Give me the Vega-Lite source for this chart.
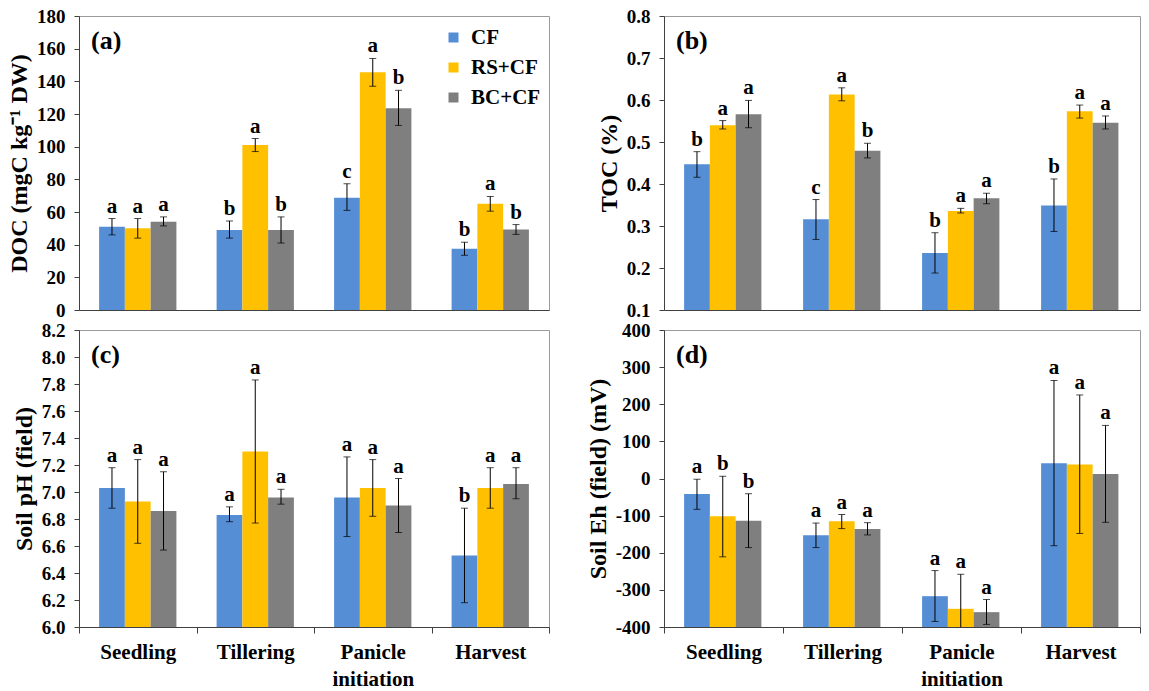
{
  "$schema": "https://vega.github.io/schema/vega-lite/v6.json",
  "padding": {"left": 7, "top": 6, "right": 5, "bottom": 2},
  "bounds": "flush",
  "align": "each",
  "columns": 2,
  "spacing": {"row": 20, "column": 115},
  "datasets": {
    "a": [
      {"stage": "Seedling", "treat": "CF", "value": 51, "lo": 46, "hi": 56, "letter": "a"},
      {"stage": "Seedling", "treat": "RS+CF", "value": 50, "lo": 44, "hi": 56, "letter": "a"},
      {"stage": "Seedling", "treat": "BC+CF", "value": 54, "lo": 51.5, "hi": 57, "letter": "a"},
      {"stage": "Tillering", "treat": "CF", "value": 49, "lo": 44, "hi": 54.5, "letter": "b"},
      {"stage": "Tillering", "treat": "RS+CF", "value": 101, "lo": 97, "hi": 105, "letter": "a"},
      {"stage": "Tillering", "treat": "BC+CF", "value": 49, "lo": 41, "hi": 57, "letter": "b"},
      {"stage": "Panicle initiation", "treat": "CF", "value": 68.7, "lo": 61, "hi": 77.3, "letter": "c"},
      {"stage": "Panicle initiation", "treat": "RS+CF", "value": 145.5, "lo": 137, "hi": 154, "letter": "a"},
      {"stage": "Panicle initiation", "treat": "BC+CF", "value": 123.5, "lo": 113, "hi": 134.5, "letter": "b"},
      {"stage": "Harvest", "treat": "CF", "value": 37.5, "lo": 33.5, "hi": 41.5, "letter": "b"},
      {"stage": "Harvest", "treat": "RS+CF", "value": 65, "lo": 60.5, "hi": 69.5, "letter": "a"},
      {"stage": "Harvest", "treat": "BC+CF", "value": 49.3, "lo": 46.3, "hi": 52.3, "letter": "b"}
    ],
    "b": [
      {"stage": "Seedling", "treat": "CF", "value": 0.447, "lo": 0.416, "hi": 0.477, "letter": "b"},
      {"stage": "Seedling", "treat": "RS+CF", "value": 0.54, "lo": 0.531, "hi": 0.551, "letter": "a"},
      {"stage": "Seedling", "treat": "BC+CF", "value": 0.566, "lo": 0.534, "hi": 0.599, "letter": "a"},
      {"stage": "Tillering", "treat": "CF", "value": 0.316, "lo": 0.268, "hi": 0.363, "letter": "c"},
      {"stage": "Tillering", "treat": "RS+CF", "value": 0.613, "lo": 0.598, "hi": 0.629, "letter": "a"},
      {"stage": "Tillering", "treat": "BC+CF", "value": 0.479, "lo": 0.462, "hi": 0.497, "letter": "b"},
      {"stage": "Panicle initiation", "treat": "CF", "value": 0.236, "lo": 0.188, "hi": 0.284, "letter": "b"},
      {"stage": "Panicle initiation", "treat": "RS+CF", "value": 0.336, "lo": 0.331, "hi": 0.342, "letter": "a"},
      {"stage": "Panicle initiation", "treat": "BC+CF", "value": 0.366, "lo": 0.353, "hi": 0.378, "letter": "a"},
      {"stage": "Harvest", "treat": "CF", "value": 0.349, "lo": 0.287, "hi": 0.412, "letter": "b"},
      {"stage": "Harvest", "treat": "RS+CF", "value": 0.573, "lo": 0.557, "hi": 0.588, "letter": "a"},
      {"stage": "Harvest", "treat": "BC+CF", "value": 0.546, "lo": 0.531, "hi": 0.562, "letter": "a"}
    ],
    "c": [
      {"stage": "Seedling", "treat": "CF", "value": 7.03, "lo": 6.88, "hi": 7.18, "letter": "a"},
      {"stage": "Seedling", "treat": "RS+CF", "value": 6.93, "lo": 6.62, "hi": 7.24, "letter": "a"},
      {"stage": "Seedling", "treat": "BC+CF", "value": 6.86, "lo": 6.57, "hi": 7.15, "letter": "a"},
      {"stage": "Tillering", "treat": "CF", "value": 6.83, "lo": 6.78, "hi": 6.89, "letter": "a"},
      {"stage": "Tillering", "treat": "RS+CF", "value": 7.3, "lo": 6.77, "hi": 7.83, "letter": "a"},
      {"stage": "Tillering", "treat": "BC+CF", "value": 6.96, "lo": 6.91, "hi": 7.02, "letter": "a"},
      {"stage": "Panicle initiation", "treat": "CF", "value": 6.96, "lo": 6.67, "hi": 7.26, "letter": "a"},
      {"stage": "Panicle initiation", "treat": "RS+CF", "value": 7.03, "lo": 6.82, "hi": 7.24, "letter": "a"},
      {"stage": "Panicle initiation", "treat": "BC+CF", "value": 6.9, "lo": 6.7, "hi": 7.1, "letter": "a"},
      {"stage": "Harvest", "treat": "CF", "value": 6.53, "lo": 6.18, "hi": 6.88, "letter": "b"},
      {"stage": "Harvest", "treat": "RS+CF", "value": 7.03, "lo": 6.88, "hi": 7.18, "letter": "a"},
      {"stage": "Harvest", "treat": "BC+CF", "value": 7.06, "lo": 6.95, "hi": 7.18, "letter": "a"}
    ],
    "d": [
      {"stage": "Seedling", "treat": "CF", "value": -42, "lo": -83, "hi": -2, "letter": "a"},
      {"stage": "Seedling", "treat": "RS+CF", "value": -102, "lo": -211, "hi": 6, "letter": "b"},
      {"stage": "Seedling", "treat": "BC+CF", "value": -114, "lo": -186, "hi": -41, "letter": "b"},
      {"stage": "Tillering", "treat": "CF", "value": -153, "lo": -186, "hi": -120, "letter": "a"},
      {"stage": "Tillering", "treat": "RS+CF", "value": -115, "lo": -135, "hi": -97, "letter": "a"},
      {"stage": "Tillering", "treat": "BC+CF", "value": -136, "lo": -152, "hi": -119, "letter": "a"},
      {"stage": "Panicle initiation", "treat": "CF", "value": -317, "lo": -385, "hi": -248, "letter": "a"},
      {"stage": "Panicle initiation", "treat": "RS+CF", "value": -351, "lo": -445, "hi": -258, "letter": "a"},
      {"stage": "Panicle initiation", "treat": "BC+CF", "value": -360, "lo": -393, "hi": -326, "letter": "a"},
      {"stage": "Harvest", "treat": "CF", "value": 41, "lo": -181, "hi": 264, "letter": "a"},
      {"stage": "Harvest", "treat": "RS+CF", "value": 38, "lo": -148, "hi": 225, "letter": "a"},
      {"stage": "Harvest", "treat": "BC+CF", "value": 12, "lo": -118, "hi": 143, "letter": "a"}
    ]
  },
  "concat": [
    {
      "width": 470, "height": 294,
      "title": {"text": "(a)", "anchor": "start", "frame": "group", "offset": -68, "dx": 12, "baseline": "alphabetic"},
      "data": {"name": "a"},
      "encoding": {
        "x": {"field": "stage", "type": "nominal", "sort": ["Seedling", "Tillering", "Panicle initiation", "Harvest"], "scale": {"paddingInner": 0, "paddingOuter": 0}, "axis": {"title": null, "labels": false, "ticks": false}},
        "xOffset": {"field": "treat", "type": "nominal", "sort": ["CF", "RS+CF", "BC+CF"], "scale": {"paddingInner": 0, "paddingOuter": 0.78}}
      },
      "layer": [
        {"mark": {"type": "bar"},
         "encoding": {
           "y": {"field": "value", "type": "quantitative", "scale": {"domain": [0, 180], "nice": false, "zero": false}, "axis": {"title": "DOC (mgC kg⁻¹ DW)", "values": [0, 20, 40, 60, 80, 100, 120, 140, 160, 180], "labelOverlap": false}},
           "y2": {"datum": 0},
           "color": {"field": "treat", "type": "nominal", "scale": {"domain": ["CF", "RS+CF", "BC+CF"], "range": ["#558ED5", "#FFC000", "#7F7F7F"]},
             "legend": {"title": null, "orient": "none", "legendX": 364, "legendY": 11, "symbolType": "square", "symbolSize": 100, "symbolStrokeWidth": 0, "labelFont": "Liberation Serif", "labelFontSize": 21, "labelFontWeight": "bold", "labelColor": "black", "rowPadding": 8, "labelOffset": 7}}
         }},
        {"mark": {"type": "rule", "color": "black", "strokeWidth": 1, "clip": true}, "encoding": {"y": {"field": "lo", "type": "quantitative", "axis": {"title": "DOC (mgC kg⁻¹ DW)", "values": [0, 20, 40, 60, 80, 100, 120, 140, 160, 180], "labelOverlap": false}}, "y2": {"field": "hi"}}},
        {"mark": {"type": "tick", "color": "black", "thickness": 1, "size": 7, "clip": true}, "encoding": {"y": {"field": "lo", "type": "quantitative", "axis": {"title": "DOC (mgC kg⁻¹ DW)", "values": [0, 20, 40, 60, 80, 100, 120, 140, 160, 180], "labelOverlap": false}}}},
        {"mark": {"type": "tick", "color": "black", "thickness": 1, "size": 7}, "encoding": {"y": {"field": "hi", "type": "quantitative", "axis": {"title": "DOC (mgC kg⁻¹ DW)", "values": [0, 20, 40, 60, 80, 100, 120, 140, 160, 180], "labelOverlap": false}}}},
        {"mark": {"type": "text", "dy": -6, "baseline": "alphabetic", "font": "Liberation Serif", "fontWeight": "bold", "fontSize": 21, "color": "black"}, "encoding": {"y": {"field": "hi", "type": "quantitative", "axis": {"title": "DOC (mgC kg⁻¹ DW)", "values": [0, 20, 40, 60, 80, 100, 120, 140, 160, 180], "labelOverlap": false}}, "text": {"field": "letter"}}}
      ]
    },
    {
      "width": 476, "height": 294,
      "title": {"text": "(b)", "anchor": "start", "frame": "group", "offset": -68, "dx": 12, "baseline": "alphabetic"},
      "data": {"name": "b"},
      "encoding": {
        "x": {"field": "stage", "type": "nominal", "sort": ["Seedling", "Tillering", "Panicle initiation", "Harvest"], "scale": {"paddingInner": 0, "paddingOuter": 0}, "axis": {"title": null, "labels": false, "ticks": false}},
        "xOffset": {"field": "treat", "type": "nominal", "sort": ["CF", "RS+CF", "BC+CF"], "scale": {"paddingInner": 0, "paddingOuter": 0.78}}
      },
      "layer": [
        {"mark": {"type": "bar"},
         "encoding": {
           "y": {"field": "value", "type": "quantitative", "scale": {"domain": [0.1, 0.8], "nice": false, "zero": false}, "axis": {"title": "TOC (%)", "values": [0.1, 0.2, 0.3, 0.4, 0.5, 0.6, 0.7, 0.8], "format": ".1f", "labelOverlap": false}},
           "y2": {"datum": 0.1},
           "color": {"field": "treat", "type": "nominal", "scale": {"domain": ["CF", "RS+CF", "BC+CF"], "range": ["#558ED5", "#FFC000", "#7F7F7F"]}, "legend": null}
         }},
        {"mark": {"type": "rule", "color": "black", "strokeWidth": 1, "clip": true}, "encoding": {"y": {"field": "lo", "type": "quantitative", "axis": {"title": "TOC (%)", "values": [0.1, 0.2, 0.3, 0.4, 0.5, 0.6, 0.7, 0.8], "format": ".1f", "labelOverlap": false}}, "y2": {"field": "hi"}}},
        {"mark": {"type": "tick", "color": "black", "thickness": 1, "size": 7, "clip": true}, "encoding": {"y": {"field": "lo", "type": "quantitative", "axis": {"title": "TOC (%)", "values": [0.1, 0.2, 0.3, 0.4, 0.5, 0.6, 0.7, 0.8], "format": ".1f", "labelOverlap": false}}}},
        {"mark": {"type": "tick", "color": "black", "thickness": 1, "size": 7}, "encoding": {"y": {"field": "hi", "type": "quantitative", "axis": {"title": "TOC (%)", "values": [0.1, 0.2, 0.3, 0.4, 0.5, 0.6, 0.7, 0.8], "format": ".1f", "labelOverlap": false}}}},
        {"mark": {"type": "text", "dy": -6, "baseline": "alphabetic", "font": "Liberation Serif", "fontWeight": "bold", "fontSize": 21, "color": "black"}, "encoding": {"y": {"field": "hi", "type": "quantitative", "axis": {"title": "TOC (%)", "values": [0.1, 0.2, 0.3, 0.4, 0.5, 0.6, 0.7, 0.8], "format": ".1f", "labelOverlap": false}}, "text": {"field": "letter"}}}
      ]
    },
    {
      "width": 470, "height": 297,
      "title": {"text": "(c)", "anchor": "start", "frame": "group", "offset": -68, "dx": 12, "baseline": "alphabetic"},
      "data": {"name": "c"},
      "encoding": {
        "x": {"field": "stage", "type": "nominal", "sort": ["Seedling", "Tillering", "Panicle initiation", "Harvest"], "scale": {"paddingInner": 0, "paddingOuter": 0},
          "axis": {"title": null, "labelAngle": 0, "tickBand": "extent", "tickSize": 6, "labelFontSize": 21, "labelPadding": 8, "labelLineHeight": 27, "labelBaseline": "top", "labelExpr": "datum.value == 'Panicle initiation' ? ['Panicle', 'initiation'] : datum.label"}},
        "xOffset": {"field": "treat", "type": "nominal", "sort": ["CF", "RS+CF", "BC+CF"], "scale": {"paddingInner": 0, "paddingOuter": 0.78}}
      },
      "layer": [
        {"mark": {"type": "bar"},
         "encoding": {
           "y": {"field": "value", "type": "quantitative", "scale": {"domain": [6.0, 8.2], "nice": false, "zero": false}, "axis": {"title": "Soil pH (field)", "values": [6.0, 6.2, 6.4, 6.6, 6.8, 7.0, 7.2, 7.4, 7.6, 7.8, 8.0, 8.2], "format": ".1f", "labelOverlap": false}},
           "y2": {"datum": 6.0},
           "color": {"field": "treat", "type": "nominal", "scale": {"domain": ["CF", "RS+CF", "BC+CF"], "range": ["#558ED5", "#FFC000", "#7F7F7F"]}, "legend": null}
         }},
        {"mark": {"type": "rule", "color": "black", "strokeWidth": 1, "clip": true}, "encoding": {"y": {"field": "lo", "type": "quantitative", "axis": {"title": "Soil pH (field)", "values": [6.0, 6.2, 6.4, 6.6, 6.8, 7.0, 7.2, 7.4, 7.6, 7.8, 8.0, 8.2], "format": ".1f", "labelOverlap": false}}, "y2": {"field": "hi"}}},
        {"mark": {"type": "tick", "color": "black", "thickness": 1, "size": 7, "clip": true}, "encoding": {"y": {"field": "lo", "type": "quantitative", "axis": {"title": "Soil pH (field)", "values": [6.0, 6.2, 6.4, 6.6, 6.8, 7.0, 7.2, 7.4, 7.6, 7.8, 8.0, 8.2], "format": ".1f", "labelOverlap": false}}}},
        {"mark": {"type": "tick", "color": "black", "thickness": 1, "size": 7}, "encoding": {"y": {"field": "hi", "type": "quantitative", "axis": {"title": "Soil pH (field)", "values": [6.0, 6.2, 6.4, 6.6, 6.8, 7.0, 7.2, 7.4, 7.6, 7.8, 8.0, 8.2], "format": ".1f", "labelOverlap": false}}}},
        {"mark": {"type": "text", "dy": -6, "baseline": "alphabetic", "font": "Liberation Serif", "fontWeight": "bold", "fontSize": 21, "color": "black"}, "encoding": {"y": {"field": "hi", "type": "quantitative", "axis": {"title": "Soil pH (field)", "values": [6.0, 6.2, 6.4, 6.6, 6.8, 7.0, 7.2, 7.4, 7.6, 7.8, 8.0, 8.2], "format": ".1f", "labelOverlap": false}}, "text": {"field": "letter"}}}
      ]
    },
    {
      "width": 476, "height": 297,
      "title": {"text": "(d)", "anchor": "start", "frame": "group", "offset": -68, "dx": 12, "baseline": "alphabetic"},
      "data": {"name": "d"},
      "encoding": {
        "x": {"field": "stage", "type": "nominal", "sort": ["Seedling", "Tillering", "Panicle initiation", "Harvest"], "scale": {"paddingInner": 0, "paddingOuter": 0},
          "axis": {"title": null, "labelAngle": 0, "tickBand": "extent", "tickSize": 6, "labelFontSize": 21, "labelPadding": 8, "labelLineHeight": 27, "labelBaseline": "top", "labelExpr": "datum.value == 'Panicle initiation' ? ['Panicle', 'initiation'] : datum.label"}},
        "xOffset": {"field": "treat", "type": "nominal", "sort": ["CF", "RS+CF", "BC+CF"], "scale": {"paddingInner": 0, "paddingOuter": 0.78}}
      },
      "layer": [
        {"mark": {"type": "bar"},
         "encoding": {
           "y": {"field": "value", "type": "quantitative", "scale": {"domain": [-400, 400], "nice": false, "zero": false}, "axis": {"title": "Soil Eh (field) (mV)", "values": [-400, -300, -200, -100, 0, 100, 200, 300, 400], "labelExpr": "'' + datum.value", "labelOverlap": false}},
           "y2": {"datum": -400},
           "color": {"field": "treat", "type": "nominal", "scale": {"domain": ["CF", "RS+CF", "BC+CF"], "range": ["#558ED5", "#FFC000", "#7F7F7F"]}, "legend": null}
         }},
        {"mark": {"type": "rule", "color": "black", "strokeWidth": 1, "clip": true}, "encoding": {"y": {"field": "lo", "type": "quantitative", "axis": {"title": "Soil Eh (field) (mV)", "values": [-400, -300, -200, -100, 0, 100, 200, 300, 400], "labelExpr": "'' + datum.value", "labelOverlap": false}}, "y2": {"field": "hi"}}},
        {"mark": {"type": "tick", "color": "black", "thickness": 1, "size": 7, "clip": true}, "encoding": {"y": {"field": "lo", "type": "quantitative", "axis": {"title": "Soil Eh (field) (mV)", "values": [-400, -300, -200, -100, 0, 100, 200, 300, 400], "labelExpr": "'' + datum.value", "labelOverlap": false}}}},
        {"mark": {"type": "tick", "color": "black", "thickness": 1, "size": 7}, "encoding": {"y": {"field": "hi", "type": "quantitative", "axis": {"title": "Soil Eh (field) (mV)", "values": [-400, -300, -200, -100, 0, 100, 200, 300, 400], "labelExpr": "'' + datum.value", "labelOverlap": false}}}},
        {"mark": {"type": "text", "dy": -6, "baseline": "alphabetic", "font": "Liberation Serif", "fontWeight": "bold", "fontSize": 21, "color": "black"}, "encoding": {"y": {"field": "hi", "type": "quantitative", "axis": {"title": "Soil Eh (field) (mV)", "values": [-400, -300, -200, -100, 0, 100, 200, 300, 400], "labelExpr": "'' + datum.value", "labelOverlap": false}}, "text": {"field": "letter"}}}
      ]
    }
  ],
  "resolve": {"scale": {"color": "independent", "y": "independent", "x": "independent"}, "legend": {"color": "independent"}, "axis": {"y": "independent", "x": "independent"}},
  "config": {
    "font": "Liberation Serif",
    "view": {"stroke": "#9a9a9a", "strokeWidth": 1},
    "title": {"font": "Liberation Serif", "fontSize": 26, "fontWeight": "bold", "color": "black"},
    "axis": {"domainColor": "#404040", "tickColor": "#404040", "labelColor": "black", "titleColor": "black", "labelFont": "Liberation Serif", "titleFont": "Liberation Serif", "labelFontWeight": "bold", "titleFontWeight": "bold", "labelFontSize": 19, "titleFontSize": 24, "grid": false, "labelOverlap": false, "labelSeparation": 0},
    "axisY": {"tickSize": 5, "labelPadding": 9, "titlePadding": 5, "labelOverlap": false},
    "axisQuantitative": {"labelOverlap": false}
  }
}
